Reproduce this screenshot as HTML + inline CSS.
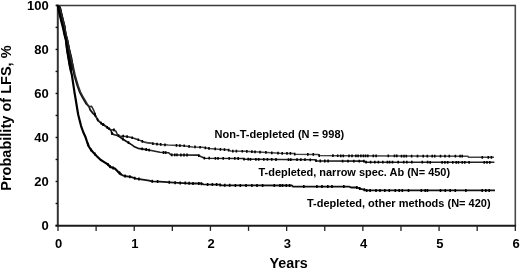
<!DOCTYPE html>
<html><head><meta charset="utf-8"><style>
html,body{margin:0;padding:0;background:#fff;}
body{width:520px;height:269px;overflow:hidden;}
svg{display:block;will-change:transform;}
.t{font-family:"Liberation Sans",sans-serif;font-weight:bold;font-size:13px;fill:#000;}
.ax{font-family:"Liberation Sans",sans-serif;font-weight:bold;font-size:14px;fill:#000;}
.lb{font-family:"Liberation Sans",sans-serif;font-weight:bold;font-size:10.4px;fill:#000;}
</style></head><body>
<svg width="520" height="269" viewBox="0 0 520 269">
<line x1="56" y1="5.4" x2="516.0" y2="5.4" stroke="#3a3a3a" stroke-width="1.5"/>
<line x1="515.3" y1="5.4" x2="515.3" y2="225.5" stroke="#484848" stroke-width="1.6"/>
<line x1="57.8" y1="4.7" x2="57.8" y2="226.5" stroke="#333" stroke-width="2"/>
<line x1="55.5" y1="225.7" x2="516.0999999999999" y2="225.7" stroke="#1a1a1a" stroke-width="2"/>
<line x1="55.6" y1="225.50" x2="57.8" y2="225.50" stroke="#111" stroke-width="1.4"/>
<line x1="55.6" y1="203.49" x2="57.8" y2="203.49" stroke="#111" stroke-width="1.4"/>
<line x1="55.6" y1="181.48" x2="57.8" y2="181.48" stroke="#111" stroke-width="1.4"/>
<line x1="55.6" y1="159.47" x2="57.8" y2="159.47" stroke="#111" stroke-width="1.4"/>
<line x1="55.6" y1="137.46" x2="57.8" y2="137.46" stroke="#111" stroke-width="1.4"/>
<line x1="55.6" y1="115.45" x2="57.8" y2="115.45" stroke="#111" stroke-width="1.4"/>
<line x1="55.6" y1="93.44" x2="57.8" y2="93.44" stroke="#111" stroke-width="1.4"/>
<line x1="55.6" y1="71.43" x2="57.8" y2="71.43" stroke="#111" stroke-width="1.4"/>
<line x1="55.6" y1="49.42" x2="57.8" y2="49.42" stroke="#111" stroke-width="1.4"/>
<line x1="55.6" y1="27.41" x2="57.8" y2="27.41" stroke="#111" stroke-width="1.4"/>
<line x1="55.6" y1="5.40" x2="57.8" y2="5.40" stroke="#111" stroke-width="1.4"/>
<line x1="58.00" y1="225.5" x2="58.00" y2="230.9" stroke="#222" stroke-width="1.3"/>
<line x1="96.11" y1="225.5" x2="96.11" y2="230.9" stroke="#222" stroke-width="1.3"/>
<line x1="134.22" y1="225.5" x2="134.22" y2="230.9" stroke="#222" stroke-width="1.3"/>
<line x1="172.32" y1="225.5" x2="172.32" y2="230.9" stroke="#222" stroke-width="1.3"/>
<line x1="210.43" y1="225.5" x2="210.43" y2="230.9" stroke="#222" stroke-width="1.3"/>
<line x1="248.54" y1="225.5" x2="248.54" y2="230.9" stroke="#222" stroke-width="1.3"/>
<line x1="286.65" y1="225.5" x2="286.65" y2="230.9" stroke="#222" stroke-width="1.3"/>
<line x1="324.76" y1="225.5" x2="324.76" y2="230.9" stroke="#222" stroke-width="1.3"/>
<line x1="362.87" y1="225.5" x2="362.87" y2="230.9" stroke="#222" stroke-width="1.3"/>
<line x1="400.97" y1="225.5" x2="400.97" y2="230.9" stroke="#222" stroke-width="1.3"/>
<line x1="439.08" y1="225.5" x2="439.08" y2="230.9" stroke="#222" stroke-width="1.3"/>
<line x1="477.19" y1="225.5" x2="477.19" y2="230.9" stroke="#222" stroke-width="1.3"/>
<line x1="515.30" y1="225.5" x2="515.30" y2="230.9" stroke="#222" stroke-width="1.3"/>
<text x="48.8" y="230.10" text-anchor="end" class="t">0</text>
<text x="48.8" y="186.08" text-anchor="end" class="t">20</text>
<text x="48.8" y="142.06" text-anchor="end" class="t">40</text>
<text x="48.8" y="98.04" text-anchor="end" class="t">60</text>
<text x="48.8" y="54.02" text-anchor="end" class="t">80</text>
<text x="48.8" y="10.00" text-anchor="end" class="t">100</text>
<text x="58.60" y="247.8" text-anchor="middle" class="t">0</text>
<text x="134.85" y="247.8" text-anchor="middle" class="t">1</text>
<text x="211.10" y="247.8" text-anchor="middle" class="t">2</text>
<text x="287.35" y="247.8" text-anchor="middle" class="t">3</text>
<text x="363.60" y="247.8" text-anchor="middle" class="t">4</text>
<text x="439.85" y="247.8" text-anchor="middle" class="t">5</text>
<text x="516.10" y="247.8" text-anchor="middle" class="t">6</text>
<text x="288.7" y="267.7" text-anchor="middle" class="ax" style="font-size:14.3px">Years</text>
<text transform="translate(11.1,118.1) rotate(-90)" text-anchor="middle" class="ax" textLength="145.4" lengthAdjust="spacingAndGlyphs">Probability of LFS, %</text>
<text x="214.6" y="137.8" class="lb" textLength="129.6" lengthAdjust="spacingAndGlyphs">Non-T-depleted (N = 998)</text>
<text x="258.5" y="175.7" class="lb" textLength="191.6" lengthAdjust="spacingAndGlyphs">T-depleted, narrow spec. Ab (N= 450)</text>
<text x="307.0" y="206.7" class="lb" textLength="183.6" lengthAdjust="spacingAndGlyphs">T-depleted, other methods (N= 420)</text>
<polygon points="57.2,5.4 57.4,6.2 58.1,9.6 58.8,12.9 59.9,17.4 61.0,21.9 62.0,26.3 63.0,30.8 63.6,34.0 65.0,40.0 66.2,50.0 67.6,58.0 68.4,63.0 69.2,67.0 70.3,71.5 71.0,72.0 72.5,70.0 73.7,67.0 73.1,63.0 72.4,58.0 70.4,50.0 68.3,40.0 66.7,34.0 66.2,30.8 65.6,26.3 64.5,21.9 63.4,17.4 62.3,12.9 61.7,9.6 60.6,6.2 59.0,5.4" fill="#0a0a0a"/>
<polyline points="57.8,5.4 60.3,9.6 61.2,12.9 62.3,17.4 63.4,21.9 64.5,26.3 65.2,30.8 65.7,34.0 67.3,40.0 69.3,50.0 71.2,59.0 72.1,65.0 73.1,70.0 74.2,75.0 75.6,80.0 77.4,86.0 79.6,92.0 82.8,98.0 86.3,104.0 89.1,106.7 90.2,109.9 93.2,113.6 95.4,115.5 97.9,120.3 102.5,124.3 104.0,125.0 108.5,128.3 111.1,130.2 111.8,133.4 114.3,134.7 116.5,135.3 117.6,135.6 119.5,136.8 123.4,139.5 127.8,142.3 132.3,145.1 134.5,146.8 138.0,148.3 144.7,149.3 150.0,150.2 150.0,150.2" fill="none" stroke="#111" stroke-width="1.7" stroke-linejoin="round"/>
<polyline points="150.0,150.2 150.0,150.2 160.0,152.3 168.5,152.7 171.0,154.8 180.0,155.0 197.6,155.1 201.3,156.8 204.6,158.2 243.0,158.5 244.0,159.2 280.0,159.5 314.6,159.8 316.9,161.0 364.2,161.1 365.4,162.2 494.4,162.3" fill="none" stroke="#222" stroke-width="1.6" stroke-linejoin="round"/>
<polyline points="57.8,5.4 60.3,9.6 61.2,12.9 62.3,17.4 63.4,21.9 64.5,26.3 65.2,30.8 65.7,34.0 67.3,40.0 69.3,50.0 71.2,59.0 73.0,65.0 74.0,70.0 75.1,75.0 76.5,80.0 78.3,86.0 80.5,92.0 83.7,98.0 87.2,104.0 89.1,106.7 91.5,106.2 93.9,110.6 95.4,115.5 97.9,120.3 102.5,124.3 104.0,125.0 108.5,128.3 111.1,130.2 113.6,129.6 116.0,131.4 117.6,135.0 119.5,136.2 123.4,136.2 127.8,136.7 132.3,137.8 136.8,139.2 140.0,140.4 144.7,142.3 152.5,143.5" fill="none" stroke="#2a2a2a" stroke-width="1.5" stroke-linejoin="round"/>
<polyline points="144.7,142.3 152.5,143.5 160.3,144.4 168.0,145.1 183.6,145.7 188.5,146.4 192.9,146.9 202.2,147.3 209.3,148.4 218.6,149.3 227.9,149.8 230.7,151.0 245.0,151.3 280.0,153.3 293.8,153.4 295.0,154.3 318.0,154.4 319.2,155.5 340.0,155.8 400.0,156.0 467.9,156.2 468.5,157.3 494.0,157.3" fill="none" stroke="#444" stroke-width="1.5" stroke-linejoin="round"/>
<polyline points="57.8,5.4 58.6,9.6 59.3,12.9 60.4,17.4 61.5,21.9 62.6,26.3 63.7,30.8 64.3,34.0 65.9,40.0 67.1,50.0 68.6,59.0 69.6,65.0 70.6,70.0 71.9,75.0 73.3,84.3 74.7,93.6 75.8,100.0 76.6,105.0 77.4,110.0 78.3,115.0 79.8,121.0 81.1,126.1 83.2,132.0 85.6,137.3 87.1,142.0 88.8,146.5 91.0,149.8 93.8,153.1 97.1,156.5 100.5,159.8 105.0,162.6 107.7,164.3 110.5,167.1 112.0,167.4 114.8,168.5 117.6,171.3 121.3,174.6" fill="none" stroke="#000" stroke-width="2.2" stroke-linejoin="round"/>
<polyline points="117.6,171.3 121.3,174.6 124.1,176.0 130.6,176.9 136.2,178.7 142.7,179.7 149.2,180.6 152.0,181.3 159.6,181.6 174.0,182.6 188.5,183.3 195.0,183.5 200.8,183.5 203.7,184.4 219.0,184.6 221.9,185.3 245.0,185.4 292.0,185.5 293.0,186.6 349.2,186.6 351.0,187.5 357.3,187.5 359.6,188.6 363.0,189.3 366.0,190.4 495.0,190.4" fill="none" stroke="#111" stroke-width="1.8" stroke-linejoin="round"/>
<path d="M95.0 113.8v2.8M97.7 118.4v2.8M103.0 123.1v2.8M107.2 125.9v2.8M112.0 132.1v2.8M122.9 137.7v2.8M128.5 141.3v2.8M142.2 147.5v2.8M146.2 148.1v2.8M149.2 148.7v2.8M163.5 151.1v2.8M165.7 151.2v2.8M171.8 153.4v2.8M174.8 153.5v2.8M177.0 153.5v2.8M180.9 153.6v2.8M184.0 153.6v2.8M187.0 153.6v2.8M198.8 154.2v2.8M204.4 156.7v2.8M209.2 156.8v2.8M215.4 156.9v2.8M218.0 156.9v2.8M223.2 156.9v2.8M229.2 157.0v2.8M234.8 157.0v2.8M238.2 157.1v2.8M244.0 157.8v2.8M248.2 157.8v2.8M250.4 157.9v2.8M255.9 157.9v2.8M258.7 157.9v2.8M263.8 158.0v2.8M267.4 158.0v2.8M271.7 158.0v2.8M276.0 158.1v2.8M288.5 158.2v2.8M290.8 158.2v2.8M297.0 158.2v2.8M300.8 158.3v2.8M305.0 158.3v2.8M310.3 158.4v2.8M316.0 159.2v2.8M320.3 159.6v2.8M324.8 159.6v2.8M328.1 159.6v2.8M342.6 159.7v2.8M348.0 159.7v2.8M353.8 159.7v2.8M359.3 159.7v2.8M363.8 159.7v2.8M366.1 160.8v2.8M370.6 160.8v2.8M374.8 160.8v2.8M378.4 160.8v2.8M382.8 160.8v2.8M387.4 160.8v2.8M389.6 160.8v2.8M392.5 160.8v2.8M398.2 160.8v2.8M403.7 160.8v2.8M406.8 160.8v2.8M411.8 160.8v2.8M422.3 160.8v2.8M427.6 160.8v2.8M430.2 160.9v2.8M442.1 160.9v2.8M444.9 160.9v2.8M447.7 160.9v2.8M452.8 160.9v2.8M456.2 160.9v2.8M458.4 160.9v2.8M462.3 160.9v2.8M464.8 160.9v2.8M469.1 160.9v2.8M484.3 160.9v2.8M487.0 160.9v2.8M489.8 160.9v2.8" stroke="#000" stroke-width="1.6" fill="none"/>
<path d="M95.0 112.8v2.7M101.1 121.7v2.7M103.5 123.4v2.7M109.1 127.4v2.7M114.0 128.5v2.7M118.6 134.3v2.7M123.2 134.8v2.7M127.1 135.3v2.7M132.2 136.4v2.7M138.3 138.4v2.7M142.3 140.0v2.7M152.9 142.2v2.7M157.0 142.7v2.7M160.7 143.1v2.7M165.0 143.5v2.7M176.5 144.1v2.7M179.9 144.2v2.7M184.2 144.4v2.7M189.1 145.1v2.7M195.0 145.6v2.7M200.1 145.9v2.7M205.4 146.5v2.7M209.0 147.0v2.7M215.2 147.6v2.7M220.4 148.0v2.7M224.5 148.3v2.7M228.6 148.8v2.7M232.8 149.7v2.7M236.4 149.8v2.7M242.3 149.9v2.7M246.8 150.1v2.7M251.9 150.3v2.7M255.0 150.5v2.7M260.0 150.8v2.7M265.9 151.1v2.7M271.8 151.5v2.7M278.0 151.8v2.7M282.2 152.0v2.7M287.0 152.0v2.7M290.4 152.0v2.7M294.7 152.7v2.7M307.8 153.0v2.7M313.3 153.0v2.7M319.2 154.2v2.7M332.9 154.3v2.7M337.7 154.4v2.7M340.8 154.5v2.7M343.3 154.5v2.7M349.0 154.5v2.7M352.0 154.5v2.7M355.9 154.5v2.7M358.1 154.5v2.7M360.9 154.5v2.7M363.4 154.5v2.7M365.6 154.5v2.7M367.8 154.5v2.7M373.3 154.6v2.7M376.1 154.6v2.7M388.3 154.6v2.7M394.5 154.6v2.7M396.8 154.6v2.7M401.5 154.7v2.7M404.0 154.7v2.7M406.3 154.7v2.7M411.6 154.7v2.7M417.5 154.7v2.7M423.2 154.7v2.7M427.3 154.7v2.7M432.2 154.7v2.7M434.7 154.8v2.7M440.5 154.8v2.7M445.0 154.8v2.7M449.3 154.8v2.7M455.4 154.8v2.7M460.1 154.8v2.7M462.2 154.8v2.7M482.3 156.0v2.7M488.3 156.0v2.7M491.4 156.0v2.7" stroke="#000" stroke-width="1.6" fill="none"/>
<path d="M88.0 142.9v3.0M91.1 148.4v3.0M94.8 152.6v3.0M107.9 163.0v3.0M110.0 165.1v3.0M113.2 166.4v3.0M119.5 171.5v3.0M125.1 174.6v3.0M129.9 175.3v3.0M134.7 176.7v3.0M139.0 177.6v3.0M152.3 179.8v3.0M157.6 180.0v3.0M169.3 180.8v3.0M175.1 181.2v3.0M180.2 181.4v3.0M185.3 181.6v3.0M189.1 181.8v3.0M193.0 181.9v3.0M198.8 182.0v3.0M201.5 182.2v3.0M207.6 183.0v3.0M212.4 183.0v3.0M216.6 183.1v3.0M220.2 183.4v3.0M224.7 183.8v3.0M229.7 183.8v3.0M235.4 183.9v3.0M240.3 183.9v3.0M246.0 183.9v3.0M251.9 183.9v3.0M257.0 183.9v3.0M262.6 183.9v3.0M274.3 184.0v3.0M280.0 184.0v3.0M282.5 184.0v3.0M286.3 184.0v3.0M289.6 184.0v3.0M303.8 185.1v3.0M316.9 185.1v3.0M322.0 185.1v3.0M327.8 185.1v3.0M332.0 185.1v3.0M343.8 185.1v3.0M356.8 186.0v3.0M359.8 187.1v3.0M364.4 188.3v3.0M366.7 188.9v3.0M370.1 188.9v3.0M376.0 188.9v3.0M380.0 188.9v3.0M384.8 188.9v3.0M389.3 188.9v3.0M395.3 188.9v3.0M399.2 188.9v3.0M402.3 188.9v3.0M408.5 188.9v3.0M421.3 188.9v3.0M425.2 188.9v3.0M427.4 188.9v3.0M440.5 188.9v3.0M445.3 188.9v3.0M450.2 188.9v3.0M455.3 188.9v3.0M465.9 188.9v3.0M482.2 188.9v3.0M485.8 188.9v3.0M489.2 188.9v3.0" stroke="#000" stroke-width="1.6" fill="none"/>
</svg>
</body></html>
